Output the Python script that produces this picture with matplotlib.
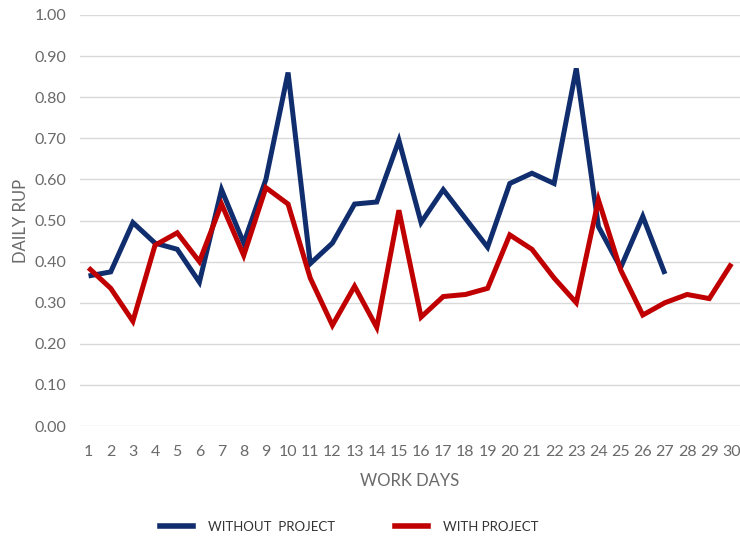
import matplotlib
matplotlib.use("Agg")
import matplotlib.pyplot as plt
from matplotlib.lines import Line2D

days = list(range(1, 31))
day_labels = [str(d) for d in days]
without_project = [0.365, 0.375, 0.495, 0.445, 0.43, 0.35, 0.575, 0.445, 0.60, 0.86,
                   0.395, 0.445, 0.54, 0.545, 0.695, 0.495, 0.575, 0.505, 0.435, 0.59,
                   0.615, 0.59, 0.87, 0.485, 0.385, 0.51, 0.37]
with_project = [0.385, 0.335, 0.255, 0.44, 0.47, 0.40, 0.54, 0.415, 0.58, 0.54,
                0.36, 0.245, 0.34, 0.24, 0.525, 0.265, 0.315, 0.32, 0.335, 0.465,
                0.43, 0.36, 0.30, 0.55, 0.38, 0.27, 0.30, 0.32, 0.31, 0.395]
yticks = [0.0, 0.1, 0.2, 0.3, 0.4, 0.5, 0.6, 0.7, 0.8, 0.9, 1.0]

plt.rcParams['font.family'] = ['Lato', 'DejaVu Sans']
grey = '#6a6a6a'
blue = '#102d6e'
red = '#c00000'

fig = plt.figure(figsize=(7.4, 5.37), dpi=100)
ax = fig.add_axes([80/740, 1-426/537, 660/740, (426-15)/537])

ax.plot(days[:len(without_project)], without_project, color=blue, lw=3.6,
        solid_joinstyle='miter', solid_capstyle='butt')
ax.plot(days[:len(with_project)], with_project, color=red, lw=3.6,
        solid_joinstyle='miter', solid_capstyle='butt')

ax.set_xlim(0.615, 30.385)
ax.set_ylim(0, 1.0)
ax.set_yticks(yticks)
ax.set_yticklabels([f"{v:.2f}" for v in yticks])
ax.set_xticks(days)
ax.set_xticklabels(day_labels)
ax.grid(axis='y', color='#d9d9d9', lw=1)
ax.set_axisbelow(True)
for s in ax.spines.values():
    s.set_visible(False)
ax.tick_params(axis='both', length=0, colors=grey, labelsize=11.5)
ax.tick_params(axis='x', pad=14)
ax.tick_params(axis='y', pad=10)
ax.set_xlabel('WORK DAYS', color=grey, fontsize=12, labelpad=10)
ax.set_ylabel('DAILY RUP', color=grey, fontsize=12, labelpad=4)

handles = [Line2D([0], [0], color=blue, lw=4), Line2D([0], [0], color=red, lw=4)]
fig.legend(handles, ['WITHOUT  PROJECT', 'WITH PROJECT'], loc='center',
           bbox_to_anchor=(0.472, 1-527/537), ncol=2, frameon=False,
           fontsize=9.5, handlelength=2.5, handletextpad=1.1, columnspacing=4.6,
           labelcolor='#333333')

fig.savefig('out.png', dpi=100)
